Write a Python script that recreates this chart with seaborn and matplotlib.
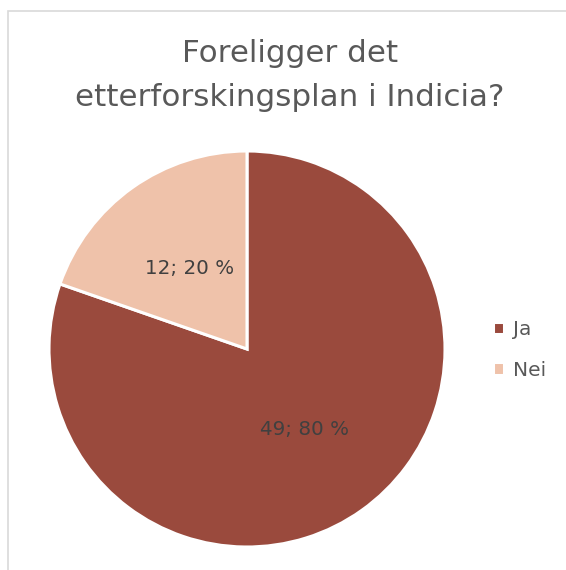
import matplotlib
matplotlib.use("Agg")
import matplotlib.pyplot as plt
from matplotlib.patches import Rectangle
import seaborn as sns

# data
categories = ["Ja", "Nei"]
counts = [49, 12]
colors = ["#9A4A3D", "#EFC2AA"]
title_lines = ["Foreligger det", "etterforskingsplan i Indicia?"]

W, H = 566, 570
sns.set_theme(style="white")
plt.rcParams["font.family"] = ["DejaVu Sans"]

fig = plt.figure(figsize=(W / 100, H / 100), dpi=100)

# light frame around the chart area (extends past right/bottom edge)
fig.patches.append(Rectangle((8 / W, -0.1), 1.2, 1 - 11 / H + 0.1, transform=fig.transFigure,
                             fill=False, edgecolor="#D9D9D9", lw=1.2))

cx, cy, r = 247, 349, 198
ax = fig.add_axes([(cx - r) / W, (H - cy - r) / H, 2 * r / W, 2 * r / H])

total = sum(counts)
palette = sns.color_palette(colors)
wedges, _, autotexts = ax.pie(
    counts,
    colors=palette,
    startangle=90,
    counterclock=False,
    radius=1,
    autopct=lambda p: f"{round(p * total / 100)}; {p:.0f} %",
    pctdistance=0.5,
    wedgeprops=dict(edgecolor="white", linewidth=2.2),
    textprops=dict(color="#404040", fontsize=14.3),
)
ax.set_xlim(-1, 1)
ax.set_ylim(-1, 1)
ax.set_aspect("equal")
ax.axis("off")

fig.text(290 / W, 1 - 53 / H, title_lines[0], ha="center", va="center", fontsize=22.3, color="#595959")
fig.text(290 / W, 1 - 98 / H, title_lines[1], ha="center", va="center", fontsize=22.3, color="#595959")

fig.legend(wedges, categories, loc="center left", bbox_to_anchor=(475 / W, 1 - 350 / H),
           frameon=False, fontsize=14.5, handlelength=0.55, handleheight=0.55,
           handletextpad=0.45, labelspacing=1.05, labelcolor="#595959")

fig.savefig("out.png", dpi=100)
